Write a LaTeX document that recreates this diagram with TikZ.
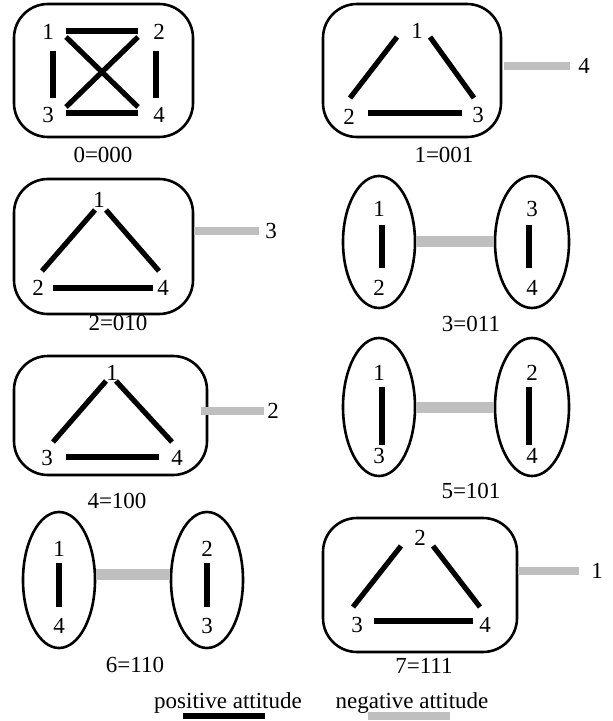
\documentclass[tikz,border=0pt]{standalone}
\usepackage{fontspec}
\setmainfont{Liberation Serif}
\usetikzlibrary{shapes.geometric}
\tikzset{
  lbl/.style={font=\fontsize{11.5}{13}\selectfont, inner sep=0pt},
  grp/.style={draw, line width=1.3pt, rounded corners=17pt, inner sep=0pt},
  clq/.style={draw, ellipse, line width=1.3pt, inner sep=0pt, minimum width=36pt, minimum height=67pt},
  posbar/.style={line width=2.6pt},
  negbar/.style={line width=4pt, black!25},
  widebar/.style={line width=5.5pt, black!25}
}
\begin{document}
\begin{tikzpicture}[x=0.5pt, y=-0.5pt]
    \useasboundingbox (0,0) rectangle (613,721);
    % state 0: all four together
    \node[grp, minimum width=89.5pt, minimum height=66.5pt] (g0) at (103.5,70.5) {};
    \node[lbl] (a1) at (48,32) {1};
    \node[lbl] (a2) at (159,32) {2};
    \node[lbl] (a3) at (48,115) {3};
    \node[lbl] (a4) at (159,115) {4};
    \draw[posbar] ([shift={(18,-1)}]a1.center) -- ([shift={(-21,-1)}]a2.center);
    \draw[posbar] ([shift={(18,-2)}]a3.center) -- ([shift={(-21,-2)}]a4.center);
    \draw[posbar] ([shift={(5,19)}]a1.center) -- ([shift={(5,-17)}]a3.center);
    \draw[posbar] ([shift={(-3,19)}]a2.center) -- ([shift={(-3,-17)}]a4.center);
    \draw[posbar] ([shift={(18,5)}]a1.center) -- ([shift={(-21,-8)}]a4.center);
    \draw[posbar] ([shift={(-21,5)}]a2.center) -- ([shift={(18,-8)}]a3.center);
    \node[lbl] (t0) at (103,155) {0=000};

    % state 1: 4 on its own
    \node[grp, minimum width=89pt, minimum height=66.5pt] (g1) at (412,70.5) {};
    \node[lbl] (b1) at (417,31) {1};
    \node[lbl] (b2) at (349,117) {2};
    \node[lbl] (b3) at (478,115) {3};
    \node[lbl] (b4) at (584,66) {4};
    \draw[posbar] ([shift={(-20,6)}]b1.center) -- ([shift={(1,-19)}]b2.center);
    \draw[posbar] ([shift={(13,6)}]b1.center) -- ([shift={(-4,-17)}]b3.center);
    \draw[posbar] ([shift={(19,-4)}]b2.center) -- ([shift={(-16,-2)}]b3.center);
    \draw[negbar, shorten <=1pt, shorten >=4pt] (g1.east |- b4) -- (b4);
    \node[lbl] (t1) at (444,155) {1=001};

    % state 2: 3 on its own
    \node[grp, minimum width=89.5pt, minimum height=67.5pt] (g2) at (103.5,246.5) {};
    \node[lbl] (c1) at (99,200) {1};
    \node[lbl] (c2) at (38,288) {2};
    \node[lbl] (c4) at (163,288) {4};
    \node[lbl] (c3) at (271,231) {3};
    \draw[posbar] ([shift={(-4,10)}]c1.center) -- ([shift={(4,-17)}]c2.center);
    \draw[posbar] ([shift={(7,10)}]c1.center) -- ([shift={(-4,-17)}]c4.center);
    \draw[posbar] ([shift={(15,0)}]c2.center) -- ([shift={(-10,0)}]c4.center);
    \draw[negbar, shorten >=3pt] (g2.east |- c3) -- (c3);
    \node[lbl] (t2) at (118,323) {2=010};

    % state 3: {1,2} against {3,4}
    \node[clq, minimum height=66pt] (e3a) at (379,242) {};
    \node[clq, minimum width=37pt, minimum height=66pt] (e3b) at (532,242) {};
    \node[lbl] (d1) at (379,209) {1};
    \node[lbl] (d2) at (379,288) {2};
    \node[lbl] (d3) at (532,209) {3};
    \node[lbl] (d4) at (532,288) {4};
    \draw[posbar] ([shift={(3,16)}]d1.center) -- ([shift={(3,-20)}]d2.center);
    \draw[posbar] ([shift={(-3,16)}]d3.center) -- ([shift={(-3,-20)}]d4.center);
    \draw[widebar] (e3a) -- (e3b);
    \node[lbl] (t3) at (471,324) {3=011};

    % state 4: 2 on its own
    \node[grp, minimum width=96.5pt, minimum height=59.5pt] (g4) at (110.5,415.5) {};
    \node[lbl] (f1) at (112,373) {1};
    \node[lbl] (f3) at (47,458) {3};
    \node[lbl] (f4) at (177,458) {4};
    \node[lbl] (f2) at (273,411) {2};
    \draw[posbar] ([shift={(-6,8)}]f1.center) -- ([shift={(6,-16)}]f3.center);
    \draw[posbar] ([shift={(4,8)}]f1.center) -- ([shift={(-5,-16)}]f4.center);
    \draw[posbar] ([shift={(19,-1)}]f3.center) -- ([shift={(-18,-1)}]f4.center);
    \draw[negbar, shorten <=-3.5pt, shorten >=1.5pt] (g4.east |- f2) -- (f2);
    \node[lbl] (t4) at (117,501) {4=100};

    % state 5: {1,3} against {2,4}
    \node[clq, minimum height=69pt] (e5a) at (379,407) {};
    \node[clq, minimum width=37pt, minimum height=69pt] (e5b) at (532,407) {};
    \node[lbl] (h1) at (379,373) {1};
    \node[lbl] (h3) at (379,456) {3};
    \node[lbl] (h2) at (532,373) {2};
    \node[lbl] (h4) at (532,456) {4};
    \draw[posbar] ([shift={(3,14)}]h1.center) -- ([shift={(3,-11)}]h3.center);
    \draw[posbar] ([shift={(-3,14)}]h2.center) -- ([shift={(-3,-11)}]h4.center);
    \draw[widebar] (e5a) -- (e5b);
    \node[lbl] (t5) at (471,491) {5=101};

    % state 6: {1,4} against {2,3}
    \node[clq, minimum height=68pt] (e6a) at (59,580) {};
    \node[clq, minimum height=68pt] (e6b) at (207,580) {};
    \node[lbl] (k1) at (59,549) {1};
    \node[lbl] (k4) at (59,626) {4};
    \node[lbl] (k2) at (207,549) {2};
    \node[lbl] (k3) at (207,626) {3};
    \draw[posbar] ([shift={(0,14)}]k1.center) -- ([shift={(0,-19)}]k4.center);
    \draw[posbar] ([shift={(0,14)}]k2.center) -- ([shift={(0,-19)}]k3.center);
    \draw[widebar] ([yshift=3pt]e6a.east) -- ([yshift=3pt]e6b.west);
    \node[lbl] (t6) at (135,665) {6=110};

    % state 7: 1 on its own
    \node[grp, minimum width=97pt, minimum height=67pt] (g7) at (420,585) {};
    \node[lbl] (m2) at (420,538) {2};
    \node[lbl] (m3) at (357,625) {3};
    \node[lbl] (m4) at (485,625) {4};
    \node[lbl] (m1) at (597,571) {1};
    \draw[posbar] ([shift={(-19,8)}]m2.center) -- ([shift={(-4,-18)}]m3.center);
    \draw[posbar] ([shift={(13,8)}]m2.center) -- ([shift={(-5,-18)}]m4.center);
    \draw[posbar] ([shift={(17,-4)}]m3.center) -- ([shift={(-12,-4)}]m4.center);
    \draw[negbar, shorten >=6pt] (g7.east |- m1) -- (m1);
    \node[lbl] (t7) at (424,666) {7=111};

    % key
    \node[lbl] (kp) at (228,703) {positive attitude};
    \node[lbl] (kn) at (412,703) {negative attitude};
    \draw[posbar] ([shift={(-45,13)}]kp.center) -- ([shift={(37,13)}]kp.center);
    \draw[negbar] ([shift={(-44,13)}]kn.center) -- ([shift={(38,13)}]kn.center);
\end{tikzpicture}
\end{document}
